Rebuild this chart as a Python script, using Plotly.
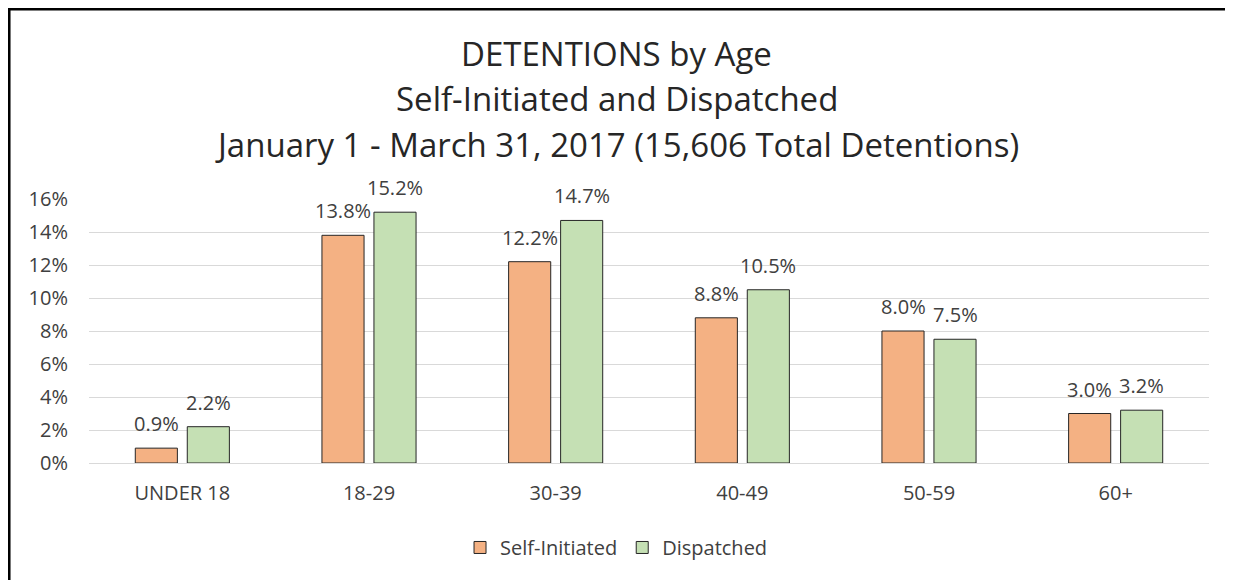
import plotly.graph_objects as go

age_groups = ["UNDER 18", "18-29", "30-39", "40-49", "50-59", "60+"]
self_initiated = [0.009, 0.138, 0.122, 0.088, 0.080, 0.030]
dispatched = [0.022, 0.152, 0.147, 0.105, 0.075, 0.032]
title_lines = [
    "DETENTIONS by Age",
    "Self-Initiated and Dispatched",
    "January 1 - March 31, 2017 (15,606 Total Detentions)",
]

FONT = "'Open Sans', 'Noto Sans', sans-serif"
TEXT = "#404040"

fig = go.Figure()
fig.add_trace(go.Bar(
    x=age_groups, y=self_initiated, name="Self-Initiated",
    marker=dict(color="#F4B183", line=dict(color="#262626", width=1)),
))
fig.add_trace(go.Bar(
    x=age_groups, y=dispatched, name="Dispatched",
    marker=dict(color="#C5E0B4", line=dict(color="#262626", width=1)),
))

# data labels sit well above the bars in the original, so place them as annotations
for values, shift in ((self_initiated, -26), (dispatched, 26)):
    for cat, v in zip(age_groups, values):
        fig.add_annotation(
            x=cat, y=v, xref="x", yref="y", text=f"{v:.1%}",
            showarrow=False, xshift=shift, yshift=9, yanchor="bottom",
            font=dict(size=20, color=TEXT, family=FONT),
        )

# title as three separate lines (Excel spacing is wider than plotly's <br>)
for line, y in zip(title_lines, [1.55, 1.38, 1.207]):
    fig.add_annotation(
        text=line, xref="paper", yref="paper", x=0.471, y=y,
        showarrow=False, font=dict(size=33, color="#262626", family=FONT),
        xanchor="center", yanchor="middle",
    )

# frame (only top and left edges visible in the cropped original)
fig.add_shape(
    type="rect", xref="paper", yref="paper",
    x0=-0.0714, x1=1.2, y0=-1.0, y1=1.7197,
    line=dict(color="black", width=3), layer="above",
)

# page body adds 8px margin, so figure is 8px smaller than the window
fig.update_layout(
    width=1225, height=572,
    margin=dict(l=81, r=24, t=191, b=117),
    paper_bgcolor="white", plot_bgcolor="white",
    font=dict(family=FONT, size=16, color=TEXT),
    barmode="group", bargap=0.443, bargroupgap=0.19,
    showlegend=True,
    legend=dict(
        orientation="h", x=0.471, xanchor="center", y=-0.32, yanchor="middle",
        font=dict(size=20, color=TEXT), traceorder="normal",
    ),
)
fig.update_yaxes(
    range=[0, 0.16], dtick=0.02, tickformat=".0%",
    showgrid=True, gridcolor="#D9D9D9", gridwidth=1,
    zeroline=False, showline=False, ticks="",
    ticklabelstandoff=20, tickfont=dict(size=20, color=TEXT),
)
fig.update_xaxes(
    showline=True, linecolor="#D9D9D9", linewidth=1, ticks="",
    tickfont=dict(size=20, color=TEXT), ticklabelstandoff=12,
)

fig.write_html("out.html")
